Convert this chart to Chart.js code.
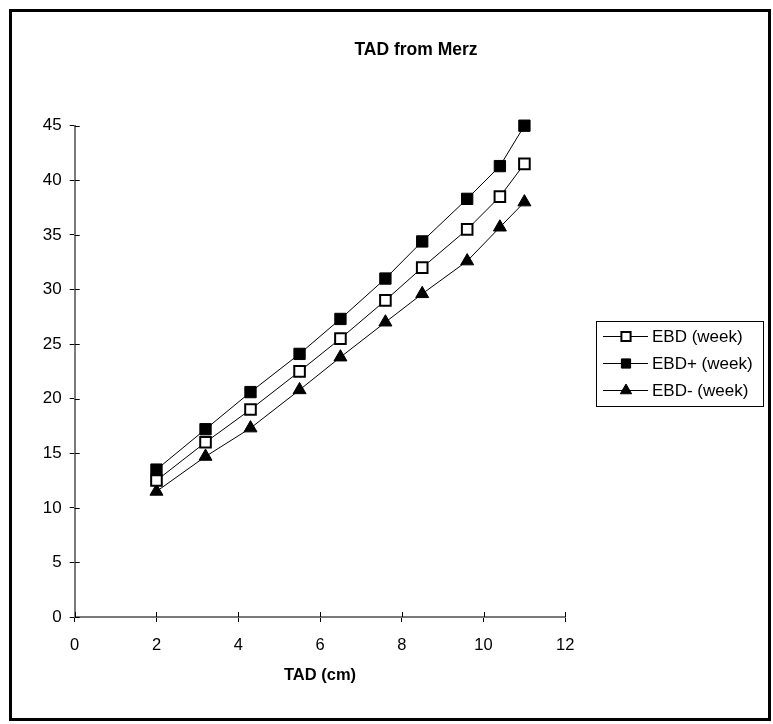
<!DOCTYPE html>
<html>
<head>
<meta charset="utf-8">
<title>TAD from Merz</title>
<script src="https://cdn.jsdelivr.net/npm/chart.js@4.4.1/dist/chart.umd.min.js"></script>
<style>
  html, body { margin: 0; padding: 0; background: #fff; }
  #wrap { width: 773px; height: 724px; }
</style>
</head>
<body>
<div id="wrap"><canvas id="tadChart" width="773" height="724"></canvas></div>
<script>
// values
var tadCm = [2, 3.2, 4.3, 5.5, 6.5, 7.6, 8.5, 9.6, 10.4, 11];
var ebdWeek = [12.5, 16.0, 19.0, 22.5, 25.5, 29.0, 32.0, 35.5, 38.5, 41.5];
var ebdPlusWeek = [13.5, 17.2, 20.6, 24.1, 27.3, 31.0, 34.4, 38.3, 41.3, 45.0];
var ebdMinusWeek = [11.5, 14.7, 17.3, 20.8, 23.8, 27.0, 29.6, 32.6, 35.7, 38.0];
var seriesNames = ['EBD (week)', 'EBD+ (week)', 'EBD- (week)'];
var xTickValues = [0, 2, 4, 6, 8, 10, 12];
var yTickValues = [0, 5, 10, 15, 20, 25, 30, 35, 40, 45];

var FONT = '"Liberation Sans", Arial, Helvetica, sans-serif';

function pairUp(ys) {
  return tadCm.map(function(x, i) { return {x: x, y: ys[i]}; });
}

// outer frame of the picture
var framePlugin = {
  id: 'frame',
  beforeDraw: function(chart) {
    var ctx = chart.ctx;
    ctx.save();
    ctx.fillStyle = '#fff';
    ctx.fillRect(0, 0, chart.width, chart.height);
    ctx.strokeStyle = '#000';
    ctx.lineWidth = 3;
    ctx.strokeRect(10.5, 10.5, 759, 709);
    ctx.restore();
  }
};

// tick marks that cross the axis (inner half)
var crossTicks = {
  id: 'crossTicks',
  afterDraw: function(chart) {
    var ctx = chart.ctx, xs = chart.scales.x, ys = chart.scales.y;
    ctx.save();
    ctx.strokeStyle = '#000';
    ctx.lineWidth = 1;
    ctx.beginPath();
    xs.ticks.forEach(function(t) {
      var px = Math.round(xs.getPixelForValue(t.value)) + 0.5;
      ctx.moveTo(px, ys.bottom);
      ctx.lineTo(px, ys.bottom - 5);
    });
    ys.ticks.forEach(function(t) {
      var py = Math.round(ys.getPixelForValue(t.value)) + 0.5;
      ctx.moveTo(xs.left, py);
      ctx.lineTo(xs.left + 5, py);
    });
    ctx.stroke();
    ctx.restore();
  }
};

// boxed legend at the right, like the original
var boxLegend = {
  id: 'boxLegend',
  afterDraw: function(chart) {
    var ctx = chart.ctx;
    var left = 596.5, top = 321.5, w = 167, h = 85;
    ctx.save();
    ctx.strokeStyle = '#000';
    ctx.lineWidth = 1;
    ctx.strokeRect(left, top, w, h);
    ctx.font = '17px ' + FONT;
    ctx.textBaseline = 'middle';
    ctx.textAlign = 'left';
    chart.data.datasets.forEach(function(ds, i) {
      var y = 336 + i * 27;
      ctx.strokeStyle = '#000';
      ctx.lineWidth = 1;
      ctx.beginPath();
      ctx.moveTo(603, y + 0.5);
      ctx.lineTo(648, y + 0.5);
      ctx.stroke();
      ctx.fillStyle = ds.pointBackgroundColor;
      ctx.strokeStyle = ds.pointBorderColor;
      ctx.lineWidth = ds.pointBorderWidth;
      Chart.helpers.drawPoint(ctx, {
        pointStyle: ds.pointStyle, rotation: 0,
        radius: 6.5, borderWidth: ds.pointBorderWidth
      }, 626, y + 0.5);
      ctx.fillStyle = '#000';
      ctx.fillText(ds.label, 652, y + 1);
    });
    ctx.restore();
  }
};

var ctx = document.getElementById('tadChart').getContext('2d');
new Chart(ctx, {
  type: 'line',
  data: {
    datasets: [{
      label: seriesNames[0],
      data: pairUp(ebdWeek),
      clip: false,
      borderColor: '#000',
      borderWidth: 1,
      pointStyle: 'rect',
      pointRadius: 7.5,
      pointBackgroundColor: '#fff',
      pointBorderColor: '#000',
      pointBorderWidth: 2
    }, {
      label: seriesNames[1],
      data: pairUp(ebdPlusWeek),
      clip: false,
      borderColor: '#000',
      borderWidth: 1,
      pointStyle: 'rect',
      pointRadius: 8,
      pointBackgroundColor: '#000',
      pointBorderColor: '#000',
      pointBorderWidth: 1
    }, {
      label: seriesNames[2],
      data: pairUp(ebdMinusWeek),
      clip: false,
      borderColor: '#000',
      borderWidth: 1,
      pointStyle: 'triangle',
      pointRadius: 7.5,
      pointBackgroundColor: '#000',
      pointBorderColor: '#000',
      pointBorderWidth: 1
    }]
  },
  options: {
    responsive: false,
    animation: false,
    // right padding is negative so the title centres where the original one sits
    layout: { padding: { left: 10, right: -49, top: 0, bottom: 0 } },
    plugins: {
      legend: { display: false },
      tooltip: { enabled: false },
      title: {
        display: true,
        text: 'TAD from Merz',
        color: '#000',
        font: { family: FONT, size: 17.5, weight: 'bold' },
        padding: { top: 40, bottom: 64.7 }
      }
    },
    scales: {
      x: {
        type: 'linear',
        min: 0, max: 12,
        afterBuildTicks: function(s) { s.ticks = xTickValues.map(function(v) { return {value: v}; }); },
        afterFit: function(s) { s.height = 107; },
        grid: { drawOnChartArea: false, color: '#000', tickLength: 5 },
        border: { color: '#7a7a7a', width: 2 },
        ticks: { color: '#000', padding: 14, maxRotation: 0, font: { family: FONT, size: 16.5 } },
        title: {
          display: true, text: 'TAD (cm)', color: '#000',
          font: { family: FONT, size: 16.5, weight: 'bold' },
          padding: { top: 0, bottom: 39 }
        }
      },
      y: {
        type: 'linear',
        min: 0, max: 45,
        afterBuildTicks: function(s) { s.ticks = yTickValues.map(function(v) { return {value: v}; }); },
        afterFit: function(s) { s.width = 64.7; },
        grid: { drawOnChartArea: false, color: '#000', tickLength: 5 },
        border: { color: '#7a7a7a', width: 2 },
        ticks: { color: '#000', padding: 8, font: { family: FONT, size: 17 } }
      },
      // empty space on the right that holds the legend
      yRight: {
        type: 'linear',
        position: 'right',
        grid: { display: false },
        border: { display: false },
        ticks: { display: false },
        afterFit: function(s) { s.width = 256.7; }
      }
    }
  },
  plugins: [framePlugin, crossTicks, boxLegend]
});
</script>
</body>
</html>
